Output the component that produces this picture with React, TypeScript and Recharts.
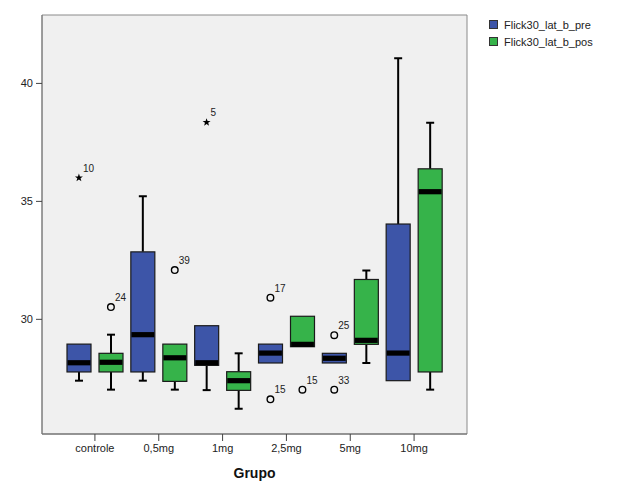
import React from "react";
import {
  Bar,
  CartesianGrid,
  ComposedChart,
  Scatter,
  XAxis,
  YAxis,
} from "recharts";

const groups = ["controle", "0,5mg", "1mg", "2,5mg", "5mg", "10mg"];

// Flick30_lat_b_pre
const preMin = [27.4, 27.4, 27.0, 28.15, 28.15, 27.4];
const preQ1 = [27.77, 27.77, 28.05, 28.15, 28.15, 27.4];
const preMed = [28.16, 29.35, 28.16, 28.57, 28.35, 28.57];
const preQ3 = [28.95, 32.86, 29.73, 28.95, 28.56, 34.04];
const preMax = [28.95, 35.22, 29.73, 28.95, 28.56, 41.07];

// Flick30_lat_b_pos
const posMin = [27.02, 27.02, 26.21, 28.84, 28.15, 27.02];
const posQ1 = [27.77, 27.37, 26.99, 28.84, 28.94, 27.77];
const posMed = [28.18, 28.37, 27.4, 28.94, 29.11, 35.41];
const posQ3 = [28.56, 28.95, 27.78, 30.13, 31.69, 36.38];
const posMax = [29.35, 28.95, 28.56, 30.13, 32.07, 38.33];

const preOutliers = [
  { group: "controle", v: 36.0, label: "10", kind: "star" },
  { group: "1mg", v: 38.35, label: "5", kind: "star" },
  { group: "2,5mg", v: 30.92, label: "17", kind: "circle" },
  { group: "2,5mg", v: 26.61, label: "15", kind: "circle" },
  { group: "5mg", v: 29.33, label: "25", kind: "circle" },
  { group: "5mg", v: 27.02, label: "33", kind: "circle" },
];
const posOutliers = [
  { group: "controle", v: 30.52, label: "24", kind: "circle" },
  { group: "0,5mg", v: 32.09, label: "39", kind: "circle" },
  { group: "2,5mg", v: 27.02, label: "15", kind: "circle" },
];

const yTicks = [30, 35, 40];
const yMin = 25.14;
const yMax = 42.9;

const PRE = "#3d55a8";
const POS = "#36b34a";
const FONT = "'Liberation Sans', Arial, sans-serif";

const data = groups.map((g, i) => ({
  group: g,
  pre: [preMin[i], preMax[i]],
  pos: [posMin[i], posMax[i]],
  preStats: { min: preMin[i], q1: preQ1[i], med: preMed[i], q3: preQ3[i], max: preMax[i] },
  posStats: { min: posMin[i], q1: posQ1[i], med: posMed[i], q3: posQ3[i], max: posMax[i] },
}));

function BoxShape(props: any) {
  const { x, y, width, height, payload, statsKey, fill } = props;
  const s = payload[statsKey];
  const top = Math.min(y, y + height);
  const bot = Math.max(y, y + height);
  const span = s.max - s.min;
  const py = (v: number) => bot - ((v - s.min) / span) * (bot - top);
  const cx = x + width / 2;
  const cap = 4;
  const yQ1 = py(s.q1);
  const yQ3 = py(s.q3);
  const yMed = py(s.med);
  return (
    <g>
      {s.max > s.q3 && (
        <>
          <line x1={cx} x2={cx} y1={top} y2={yQ3} stroke="#000" strokeWidth={2} />
          <line x1={cx - cap} x2={cx + cap} y1={top} y2={top} stroke="#000" strokeWidth={2} />
        </>
      )}
      {s.min < s.q1 && (
        <>
          <line x1={cx} x2={cx} y1={yQ1} y2={bot} stroke="#000" strokeWidth={2} />
          <line x1={cx - cap} x2={cx + cap} y1={bot} y2={bot} stroke="#000" strokeWidth={2} />
        </>
      )}
      <rect x={x} y={yQ3} width={width} height={yQ1 - yQ3} fill={fill} stroke="#1a1a1a" strokeWidth={1.2} />
      <rect x={x + 0.6} y={yMed - 2.6} width={width - 1.2} height={5.2} fill="#000" />
    </g>
  );
}

function OutlierShape(props: any) {
  const { cx, cy, payload, shift } = props;
  const px = cx + shift;
  let mark;
  if (payload.kind === "star") {
    const pts: string[] = [];
    for (let k = 0; k < 10; k++) {
      const r = k % 2 === 0 ? 4.2 : 1.7;
      const a = -Math.PI / 2 + (k * Math.PI) / 5;
      pts.push(`${px + r * Math.cos(a)},${cy + r * Math.sin(a)}`);
    }
    mark = <polygon points={pts.join(" ")} fill="#000" />;
  } else {
    mark = <circle cx={px} cy={cy} r={3.3} fill="none" stroke="#000" strokeWidth={1.4} />;
  }
  return (
    <g>
      {mark}
      <text x={px + 4} y={cy - 6} fontSize={10} fontFamily={FONT} fill="#222">
        {payload.label}
      </text>
    </g>
  );
}

function LegendBox() {
  const items = [
    { name: "Flick30_lat_b_pre", color: PRE },
    { name: "Flick30_lat_b_pos", color: POS },
  ];
  return (
    <div
      style={{
        position: "absolute",
        left: 489,
        top: 16,
        fontFamily: FONT,
        fontSize: 11,
        color: "#222",
      }}
    >
      {items.map((it) => (
        <div key={it.name} style={{ display: "flex", alignItems: "center", height: 17 }}>
          <span
            style={{
              display: "inline-block",
              width: 7,
              height: 7,
              background: it.color,
              border: "1px solid #333",
              marginRight: 6,
            }}
          />
          {it.name}
        </div>
      ))}
    </div>
  );
}

export default function App() {
  return (
    <div style={{ position: "absolute", left: 0, top: 0, width: 624, height: 500, background: "#fff" }}>
      <ComposedChart
        width={624}
        height={500}
        data={data}
        margin={{ top: 15, right: 157, bottom: 0, left: 0 }}
        barSize={24}
        barGap={8}
      >
        <CartesianGrid
          fill="#f0f0f0"
          fillOpacity={1}
          stroke="#8a8a8a"
          strokeDasharray=""
          horizontalCoordinatesGenerator={({ offset }: any) => [offset.top, offset.top + offset.height]}
          verticalCoordinatesGenerator={({ offset }: any) => [offset.left, offset.left + offset.width]}
        />
        <XAxis
          dataKey="group"
          type="category"
          allowDuplicatedCategory={false}
          padding={{ left: 21, right: 21 }}
          height={66}
          tickSize={7}
          tickMargin={3}
          tick={{ fontSize: 11, fontFamily: FONT, fill: "#222" }}
          axisLine={{ stroke: "#666" }}
          tickLine={{ stroke: "#444" }}
          label={{
            value: "Grupo",
            position: "insideBottom",
            offset: 22,
            style: { fontSize: 14, fontWeight: "bold", fontFamily: FONT, fill: "#111" },
          }}
        />
        <YAxis
          type="number"
          domain={[yMin, yMax]}
          ticks={yTicks}
          width={42}
          tickSize={6}
          tickMargin={3}
          tick={{ fontSize: 11, fontFamily: FONT, fill: "#222" }}
          axisLine={{ stroke: "#777" }}
          tickLine={{ stroke: "#444" }}
          allowDataOverflow
        />
        <Bar
          dataKey="pre"
          name="Flick30_lat_b_pre"
          fill={PRE}
          isAnimationActive={false}
          shape={(p: any) => <BoxShape {...p} statsKey="preStats" fill={PRE} />}
        />
        <Bar
          dataKey="pos"
          name="Flick30_lat_b_pos"
          fill={POS}
          isAnimationActive={false}
          shape={(p: any) => <BoxShape {...p} statsKey="posStats" fill={POS} />}
        />
        <Scatter
          data={preOutliers}
          dataKey="v"
          legendType="none"
          isAnimationActive={false}
          shape={(p: any) => <OutlierShape {...p} shift={-16} />}
        />
        <Scatter
          data={posOutliers}
          dataKey="v"
          legendType="none"
          isAnimationActive={false}
          shape={(p: any) => <OutlierShape {...p} shift={16} />}
        />
      </ComposedChart>
      <LegendBox />
    </div>
  );
}
